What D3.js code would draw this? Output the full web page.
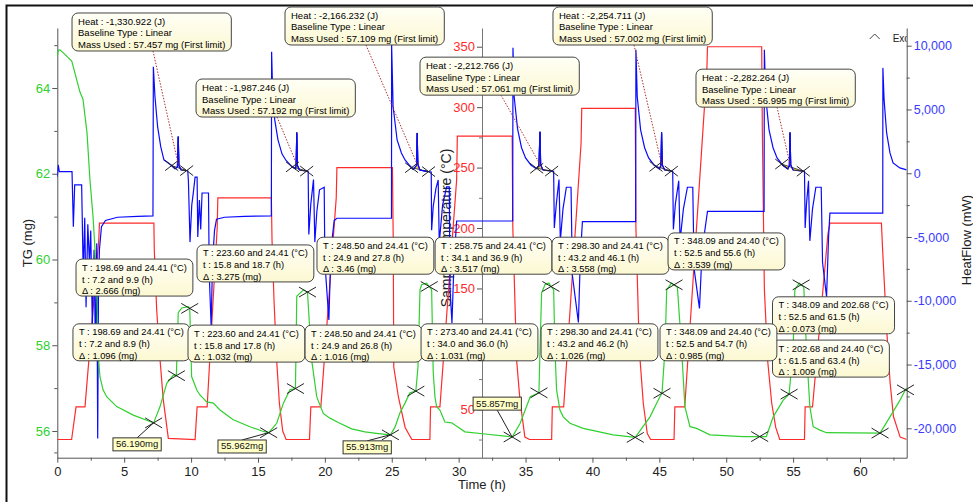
<!DOCTYPE html>
<html>
<head>
<meta charset="utf-8">
<script src="https://cdn.jsdelivr.net/npm/d3@7"></script>
<style>
  body { margin: 0; background: #fff; }
  text { font-family: "Liberation Sans", Arial, sans-serif; }
</style>
</head>
<body>
<svg id="chart" width="973" height="502"></svg>
<script>
// ---- data ----
// TG (mg) against time (h)
var tgPoints = [
  [0,64.74],[0.07,64.88],[0.2,64.89],[0.45,64.82],[1.08,64.63],[1.7,63.9],[1.92,63.74],[2.22,62.96],[2.44,61.86],[2.67,61.0],[2.82,60.23],[2.97,59.06],[3.06,57.78],[3.19,57.26],[3.42,56.96],[3.69,56.8],[4.44,56.57],[5.68,56.37],[6.93,56.22],[7.2,56.19],
  [7.68,56.57],[8.18,57.11],[8.67,57.3],[8.9,57.29],[9.04,58.76],[9.3,58.87],[9.79,58.9],[9.9,58.86],[10.04,57.27],[10.42,56.96],[10.66,56.84],[11.17,56.68],[11.66,56.65],[12.16,56.49],[13.15,56.26],[14.4,56.1],[15.3,56.0],[15.8,55.96],
  [16.4,56.18],[16.9,56.65],[17.39,56.96],[17.8,56.99],[17.9,59.14],[18.39,59.29],[18.7,59.24],[19.01,57.66],[19.39,56.8],[19.88,56.41],[20.38,56.3],[21.0,56.2],[22.0,56.05],[23.0,55.98],[24.0,55.94],[24.9,55.91],
  [25.24,56.09],[25.61,56.42],[25.99,56.65],[26.36,56.89],[26.8,56.93],[26.96,57.5],[27.11,59.29],[27.23,59.41],[27.6,59.45],[27.8,59.37],[27.98,59.3],[28.1,57.36],[28.23,56.79],[28.36,56.56],[28.6,56.49],[28.97,56.21],[29.48,56.19],[30.47,55.98],[31.97,55.93],[33.46,55.88],[34.0,55.86],
  [34.6,56.18],[35.35,56.8],[36.0,56.89],[36.08,57.89],[36.2,59.22],[36.45,59.41],[36.75,59.45],[36.9,59.37],[37.1,59.3],[37.2,57.89],[37.32,56.96],[37.57,56.49],[37.82,56.33],[38.32,56.18],[39.31,56.06],[41.55,55.91],[43.2,55.85],
  [44.3,56.33],[45.04,56.8],[45.2,56.88],[45.42,57.89],[45.55,59.29],[45.9,59.45],[46.1,59.41],[46.35,59.35],[46.67,57.89],[46.91,56.57],[47.29,56.1],[47.79,56.06],[48.78,55.91],[51.27,55.87],[52.5,55.87],
  [53.0,55.87],[53.51,56.33],[54.26,56.72],[54.7,56.86],[55.0,57.89],[55.13,59.29],[55.45,59.45],[55.6,59.41],[55.8,59.35],[56.0,57.89],[56.25,56.57],[56.5,56.1],[57.0,56.02],[57.5,55.96],[61.5,55.95],
  [62.24,56.33],[62.99,56.72],[63.4,56.96],[63.49,57.0]
];

// sample temperature (°C) against time (h)
var tempPoints = [
  [0,25],[1.07,25],[1.4,52],[2.07,52],[3.1,190],[3.15,204],[7.22,204],[7.25,182],[7.43,132],[7.68,91],[7.92,58],[8.3,26],
  [10.3,25],[10.45,52],[11.2,52],[11.95,200],[12.0,225],[16.0,225],[16.05,190],[16.2,140],[16.4,90],[16.6,55],[16.85,32],[17.1,25],
  [18.85,25],[18.95,52],[19.7,52],[20.85,225],[20.9,250],[25.05,250],[25.11,190],[25.15,85],[25.5,60],[26.0,35],[26.5,25],
  [27.85,25],[27.9,52],[28.6,52],[29.85,240],[29.9,276],[34.0,276],[34.05,200],[34.33,91],[34.58,58],[34.95,27],[35.3,25],
  [36.95,25],[37.0,52],[37.85,52],[39.15,270],[39.2,299],[43.2,299],[43.25,200],[43.5,100],[43.8,55],[44.1,30],[44.35,25],
  [46.1,25],[46.16,52],[46.9,52],[48.55,330],[48.6,350],[52.65,350],[52.7,280],[52.85,150],[53.1,90],[53.4,55],[53.7,35],[54.0,25],
  [55.85,25],[55.9,52],[56.45,52],[57.6,195],[57.75,204],[61.6,204],[61.7,180],[62.0,115],[62.25,72],[62.5,44],[63.0,27],[63.49,25]
];

// heat flow (mW) against time (h)
var heatPoints = [
  [0,-270],[0.07,650],[0.15,125],[1.1,125],[1.2,-4190],[1.3,-920],[1.82,-920],[1.94,-8000],[2.05,-3500],[2.15,-10500],[2.28,-4000],[2.4,-7000],[2.5,-4500],[2.62,-12000],[2.75,-6000],[2.85,-14000],[2.95,-5500],[3.02,-20800],[3.08,-9000],[3.15,-6000],[3.3,-4200],[3.6,-3700],[4.5,-3450],[6.0,-3380],[7.15,-3350],
  [7.18,8340],[7.3,6000],[7.5,3630],[7.73,2080],[7.97,1050],[8.5,650],[8.8,350],[8.98,500],[9.04,2870],[9.09,600],[9.25,250],[9.75,200],[9.8,-600],[9.92,-5400],[10.05,-2500],[10.17,-1500],[10.3,-300],[10.45,-300],[10.5,-5000],[10.62,-2100],[10.72,-4400],[10.82,-1550],[11.3,-1550],[11.36,-8000],[11.5,-12000],[11.6,-7000],[11.75,-4500],[11.9,-3600],[12.5,-3450],[14,-3380],[16.0,-3350],
  [16.02,9520],[16.1,6200],[16.25,4200],[16.5,2600],[16.8,1500],[17.1,1000],[17.5,550],[17.8,350],[17.85,600],[17.9,3200],[17.95,600],[18.1,250],[18.75,150],[18.8,-4800],[18.95,-2400],[19.15,-500],[19.25,-5400],[19.4,-3000],[19.6,-1300],[19.95,-1100],[20.0,-7000],[20.3,-11500],[20.45,-6000],[20.7,-3700],[20.9,-3530],[23,-3530],[24.98,-3530],
  [24.99,10070],[25.1,5230],[25.4,2610],[25.72,1590],[25.99,1040],[26.36,570],[26.6,300],[26.85,600],[26.9,3160],[26.95,700],[27.1,250],[27.6,150],[27.95,100],[27.98,-4470],[28.1,-2600],[28.3,-1200],[28.47,-530],[28.55,-5470],[28.8,-2500],[29.1,-1075],[29.3,-1075],[29.35,-9000],[29.5,-11750],[29.65,-7000],[29.85,-3745],[34.04,-3745],
  [34.06,9840],[34.15,6000],[34.4,3500],[34.7,2000],[35.0,1200],[35.4,650],[35.8,350],[36.0,600],[36.08,3250],[36.13,650],[36.3,250],[37.1,150],[37.15,-4300],[37.3,-2400],[37.5,-500],[37.6,-5300],[37.8,-2800],[38.05,-1100],[38.4,-1100],[38.5,-8000],[38.95,-11700],[39.1,-6500],[39.25,-3800],[43.23,-3800],
  [43.25,9680],[43.35,6000],[43.6,3400],[43.9,2000],[44.2,1200],[44.6,650],[45.0,350],[45.12,600],[45.17,3200],[45.22,650],[45.4,250],[46.0,150],[46.05,-4400],[46.2,-2400],[46.45,-600],[46.55,-5300],[46.8,-2800],[47.1,-1100],[47.5,-1100],[47.6,-7500],[48.0,-10600],[48.2,-6000],[48.6,-2990],[52.83,-2990],
  [52.85,9680],[52.95,6000],[53.2,3400],[53.5,2000],[53.8,1200],[54.2,650],[54.6,350],[54.72,600],[54.77,3200],[54.82,650],[55.0,250],[55.85,150],[55.9,-4300],[56.0,-2400],[56.15,-600],[56.25,-5300],[56.45,-2800],[56.7,-1100],[57.1,-1100],[57.2,-7000],[57.5,-9700],[57.65,-5000],[57.75,-3120],[61.7,-3120],
  [61.71,8260],[61.8,5750],[61.99,3160],[62.24,1590],[62.47,810],[62.98,415],[63.48,260]
];

// analysed points on the TG curve
var tgMarkTimes = [7.2,8.9,9.9,15.8,17.8,18.7,24.9,26.8,27.8,34.0,36.0,36.9,43.2,45.2,46.1,52.5,54.7,55.6,61.5,63.4];
var tgMarkMass  = [56.19,57.29,58.86,55.96,56.99,59.24,55.91,56.93,59.37,55.86,56.89,59.37,55.85,56.88,59.41,55.87,56.86,59.41,55.95,56.96];

// integrated exothermic peaks on the heat flow curve
var peakTimes  = [9.04,17.9,26.9,36.08,45.17,54.77];
var peakStart  = [8.55,17.58,26.48,35.83,44.75,54.15];
var peakEnd    = [9.67,18.64,27.75,36.95,45.9,55.76];
var peakHeat   = ['-1,330.922','-1,987.246','-2,166.232','-2,212.766','-2,254.711','-2,282.264'];
var peakMass   = ['57.457','57.192','57.109','57.061','57.002','56.995'];

// step results shown in the tip boxes
var stepTemps  = [['198.69','24.41'],['223.60','24.41'],['248.50','24.41'],['258.75','24.41'],['298.30','24.41'],['348.09','24.40'],['348.09','202.68'],['202.68','24.40'],
                  ['198.69','24.41'],['223.60','24.41'],['248.50','24.41'],['273.40','24.41'],['298.30','24.41'],['348.09','24.40']];
var stepTimes  = [['7.2','9.9'],['15.8','18.7'],['24.9','27.8'],['34.1','36.9'],['43.2','46.1'],['52.5','55.6'],['52.5','61.5'],['61.5','63.4'],
                  ['7.2','8.9'],['15.8','17.8'],['24.9','26.8'],['34.0','36.0'],['43.2','46.2'],['52.5','54.7']];
var stepDelta  = ['2.666','3.275','3.46','3.517','3.558','3.539','0.073','1.009',
                  '1.096','1.032','1.016','1.031','1.026','0.985'];

// minimum mass labels
var minTimes  = [7.2,15.8,24.9,34.0];
var minMass   = [56.19,55.962,55.913,55.857];
var minLabels = ['56.190mg','55.962mg','55.913mg','55.857mg'];

// tick values
var tgTicks    = [56,58,60,62,64];
var tgMinor    = [55.5,57,59,61,63,65];
var tempTicks  = [50,100,150,200,250,300,350];
var tempMinor  = [25,75,125,175,225,275,325];
var heatTicks  = [-20000,-15000,-10000,-5000,0,5000,10000];
var heatMinor  = [-17500,-12500,-7500,-2500,2500,7500];
var timeTicks  = [0,5,10,15,20,25,30,35,40,45,50,55,60];
var timeMinor  = [2.5,7.5,12.5,17.5,22.5,27.5,32.5,37.5,42.5,47.5,52.5,57.5,62.5];

// ---- layout (tip boxes are placed in time / TG units) ----
var heatBoxAt  = [[1.10,65.75],[10.37,64.21],[17.02,65.89],[27.11,64.72],[37.05,65.89],[47.74,64.44]];
var stepBoxAt  = [[1.40,60.01],[10.44,60.34],[19.41,60.52],[28.24,60.52],[36.98,60.52],[45.65,60.62],[53.46,59.13],[53.46,58.12],
                  [1.17,58.50],[9.77,58.47],[18.52,58.47],[27.19,58.50],[36.16,58.50],[45.05,58.50]];
var minLabelAt = [[4.16,55.84],[12.01,55.79],[21.36,55.77],[31.08,56.79]];

var L = 57.3, R = 906.7, T = 28, B = 457.7, TEMP_AXIS_X = 482;
var GREEN = '#2fd02f', RED = '#ff2a2a', BLUE = '#0a0aff';

var svg = d3.select('#chart');
svg.append('rect').attr('width', 973).attr('height', 502).attr('fill', '#fff');
svg.append('rect').attr('x', 6.5).attr('y', 5.5).attr('width', 1000).attr('height', 520)
   .attr('fill', 'none').attr('stroke', '#111').attr('stroke-width', 2);

var x = d3.scaleLinear().domain([0, 63.49]).range([L, R]);
var yTG = d3.scaleLinear().domain([55.377, 65.4]).range([B, T]);
var yTemp = d3.scaleLinear().domain([9.96, 365.5]).range([B, T]);
var yHeat = d3.scaleLinear().domain([-22305, 11388]).range([B, T]);

var defs = svg.append('defs');
defs.append('clipPath').attr('id', 'plotclip').append('rect')
    .attr('x', L).attr('y', T).attr('width', R - L).attr('height', B - T);
var grad = defs.append('linearGradient').attr('id', 'tipfill').attr('x1', 0).attr('y1', 0).attr('x2', 0).attr('y2', 1);
grad.append('stop').attr('offset', '0%').attr('stop-color', '#fffff6');
grad.append('stop').attr('offset', '100%').attr('stop-color', '#fcf8d2');

function styleAxis(g, color, fs) {
  g.select('.domain').attr('stroke', '#555');
  g.selectAll('.tick line').attr('stroke', '#555');
  g.selectAll('.tick text').attr('fill', color).attr('font-size', fs);
}

// x axis
var gx = svg.append('g').attr('transform', `translate(0,${B})`)
  .call(d3.axisBottom(x).tickValues(timeTicks).tickSize(5).tickSizeOuter(0).tickPadding(4));
styleAxis(gx, '#222', 13);
svg.append('g').attr('transform', `translate(0,${B})`)
  .call(d3.axisBottom(x).tickValues(timeMinor).tickSize(3).tickSizeOuter(0).tickFormat(''))
  .call(g => { g.select('.domain').remove(); g.selectAll('line').attr('stroke', '#555'); });

// TG axis
var gl = svg.append('g').attr('transform', `translate(${L},0)`)
  .call(d3.axisLeft(yTG).tickValues(tgTicks).tickSize(5).tickSizeOuter(0).tickPadding(2));
styleAxis(gl, GREEN, 13);
svg.append('g').attr('transform', `translate(${L},0)`)
  .call(d3.axisLeft(yTG).tickValues(tgMinor).tickSize(3).tickSizeOuter(0).tickFormat(''))
  .call(g => { g.select('.domain').remove(); g.selectAll('line').attr('stroke', '#555'); });

// temperature axis (offset, inside the plot); the 100 label sits under a tip box
var gt = svg.append('g').attr('transform', `translate(${TEMP_AXIS_X},0)`)
  .call(d3.axisLeft(yTemp).tickValues(tempTicks).tickSize(5).tickSizeOuter(0).tickPadding(2)
        .tickFormat(d => d === 100 ? '' : d));
styleAxis(gt, RED, 13);
gt.select('.domain').attr('stroke', '#777');
svg.append('g').attr('transform', `translate(${TEMP_AXIS_X},0)`)
  .call(d3.axisLeft(yTemp).tickValues(tempMinor).tickSize(3).tickSizeOuter(0).tickFormat(''))
  .call(g => { g.select('.domain').remove(); g.selectAll('line').attr('stroke', '#777'); });

// heat flow axis
var fmt = d3.format(',');
var gr = svg.append('g').attr('transform', `translate(${R},0)`)
  .call(d3.axisRight(yHeat).tickValues(heatTicks).tickSize(5).tickSizeOuter(0).tickPadding(2)
        .tickFormat(d => fmt(d).replace('\u2212', '-')));
styleAxis(gr, '#3a3aff', 12.5);
svg.append('g').attr('transform', `translate(${R},0)`)
  .call(d3.axisRight(yHeat).tickValues(heatMinor).tickSize(3).tickSizeOuter(0).tickFormat(''))
  .call(g => { g.select('.domain').remove(); g.selectAll('line').attr('stroke', '#555'); });

// axis titles
svg.append('text').attr('x', (L + R) / 2).attr('y', 489).attr('text-anchor', 'middle')
   .attr('font-size', 13).attr('fill', '#222').text('Time (h)');
svg.append('text').attr('transform', 'translate(32,243) rotate(-90)').attr('text-anchor', 'middle')
   .attr('font-size', 13).attr('fill', '#222').text('TG (mg)');
svg.append('text').attr('transform', 'translate(971,240) rotate(-90)').attr('text-anchor', 'middle')
   .attr('font-size', 13).attr('fill', '#222').text('HeatFlow (mW)');
svg.append('text').attr('transform', `translate(${TEMP_AXIS_X - 31},228) rotate(-90)`).attr('text-anchor', 'middle')
   .attr('font-size', 14).attr('fill', '#222').text('Sample Temperature (°C)');

// exo indicator
svg.append('path').attr('d', `M${R - 37},${T + 11}L${R - 32},${T + 6}L${R - 27},${T + 11}`)
   .attr('fill', 'none').attr('stroke', '#444');
svg.append('text').attr('x', R - 14).attr('y', T + 14).attr('font-size', 10).attr('fill', '#222')
   .attr('clip-path', 'url(#plotclip)').text('Exo');

// ---- curves ----
var plot = svg.append('g').attr('clip-path', 'url(#plotclip)');
var lineTemp = d3.line().x(d => x(d[0])).y(d => yTemp(d[1]));
var lineHeat = d3.line().x(d => x(d[0])).y(d => yHeat(d[1]));
var lineTG = d3.line().x(d => x(d[0])).y(d => yTG(d[1]));

plot.append('path').datum(tempPoints).attr('d', lineTemp).attr('fill', 'none').attr('stroke', RED).attr('stroke-width', 1.2);
plot.append('path').datum(heatPoints).attr('d', lineHeat).attr('fill', 'none').attr('stroke', BLUE).attr('stroke-width', 1.2);
plot.append('path').datum(tgPoints).attr('d', lineTG).attr('fill', 'none').attr('stroke', GREEN).attr('stroke-width', 1.2);

function valueAt(pts, t) {
  for (var i = 1; i < pts.length; i++) {
    if (pts[i][0] >= t) {
      var a = pts[i - 1], b = pts[i];
      return a[1] + (b[1] - a[1]) * (t - a[0]) / (b[0] - a[0]);
    }
  }
  return pts[pts.length - 1][1];
}

function cross(g, cx, cy, w, h) {
  g.append('path').attr('d', `M${cx - w / 2},${cy - h / 2}L${cx + w / 2},${cy + h / 2}M${cx - w / 2},${cy + h / 2}L${cx + w / 2},${cy - h / 2}`)
   .attr('stroke', '#222').attr('stroke-width', 1).attr('fill', 'none');
}

// integrated peaks: yellow fill between curve and straight baseline
peakTimes.forEach((pt, i) => {
  var t0 = peakStart[i], t1 = peakEnd[i];
  var poly = [[t0, valueAt(heatPoints, t0)]]
    .concat(heatPoints.filter(d => d[0] > t0 && d[0] < t1))
    .concat([[t1, valueAt(heatPoints, t1)]]);
  plot.append('path').attr('d', lineHeat(poly) + 'Z').attr('fill', '#f4c83c').attr('fill-opacity', 0.9)
      .attr('stroke', '#222').attr('stroke-width', 0.8);
  plot.append('path').datum(heatPoints.filter(d => d[0] >= t0 - 0.3 && d[0] <= t1 + 0.05))
      .attr('d', lineHeat).attr('fill', 'none').attr('stroke', BLUE).attr('stroke-width', 1.2);
  cross(svg, x(t0), yHeat(valueAt(heatPoints, t0)), 13, 10);
  cross(svg, x(t1), yHeat(valueAt(heatPoints, t1)), 13, 10);
});

// TG analysis crosses
tgMarkTimes.forEach((t, i) => cross(svg, x(t), yTG(tgMarkMass[i]), 17, 10));

// ---- tip boxes ----
function tipBox(px, py, lines, fs, padX, rows, h, rx) {
  var g = svg.append('g').attr('transform', `translate(${px},${py})`);
  var rect = g.append('rect').attr('rx', rx).attr('ry', rx)
    .attr('fill', 'url(#tipfill)').attr('stroke', '#444').attr('stroke-width', 1);
  var texts = lines.map((s, i) => g.append('text').attr('x', padX).attr('y', rows[i])
    .attr('font-size', fs).attr('fill', '#000').text(s));
  var w = d3.max(texts, t => t.node().getComputedTextLength()) + 2 * padX;
  rect.attr('width', w).attr('height', h);
  return { x: px, y: py, w: w, h: h };
}

// leader lines of the heat boxes, then the boxes
peakTimes.forEach((pt, i) => {
  var bx = x(heatBoxAt[i][0]), by = yTG(heatBoxAt[i][1]);
  svg.append('line').attr('x1', bx + 81).attr('y1', by + 38)
     .attr('x2', x(pt)).attr('y2', yHeat(700))
     .attr('stroke', '#b03030').attr('stroke-width', 1).attr('stroke-dasharray', '1.5,1.5');
});
peakTimes.forEach((pt, i) => {
  tipBox(x(heatBoxAt[i][0]), yTG(heatBoxAt[i][1]),
    ['Heat :  ' + peakHeat[i] + ' (J)', 'Baseline Type :  Linear', 'Mass Used :  ' + peakMass[i] + ' mg (First limit)'],
    9.5, 6, [12, 23.5, 35], 38, 6);
});

stepTemps.forEach((tt, i) => {
  tipBox(x(stepBoxAt[i][0]), yTG(stepBoxAt[i][1]),
    ['T : ' + tt[0] + ' and ' + tt[1] + ' (°C)', 't : ' + stepTimes[i][0] + ' and ' + stepTimes[i][1] + ' (h)', 'Δ : ' + stepDelta[i] + ' (mg)'],
    9.3, 6, [11.5, 23.5, 35], 37, 6);
});

// minimum mass labels with leaders
minTimes.forEach((t, i) => {
  var px = x(minLabelAt[i][0]), py = yTG(minLabelAt[i][1]);
  var g = svg.append('g');
  var txt = g.append('text').attr('x', px + 3).attr('y', py + 9.5).attr('font-size', 9.5).attr('fill', '#111').text(minLabels[i]);
  var w = txt.node().getComputedTextLength() + 6;
  var tx = x(t), ty = yTG(minMass[i]);
  var sy = ty < py ? py : py + 13;
  g.insert('line', 'text').attr('x1', px + w / 2).attr('y1', sy).attr('x2', tx).attr('y2', ty)
   .attr('stroke', '#222').attr('stroke-width', 1);
  g.insert('rect', 'text').attr('x', px).attr('y', py).attr('width', w).attr('height', 13)
   .attr('fill', '#ffffc6').attr('stroke', '#333').attr('stroke-width', 1);
});
</script>
</body>
</html>
